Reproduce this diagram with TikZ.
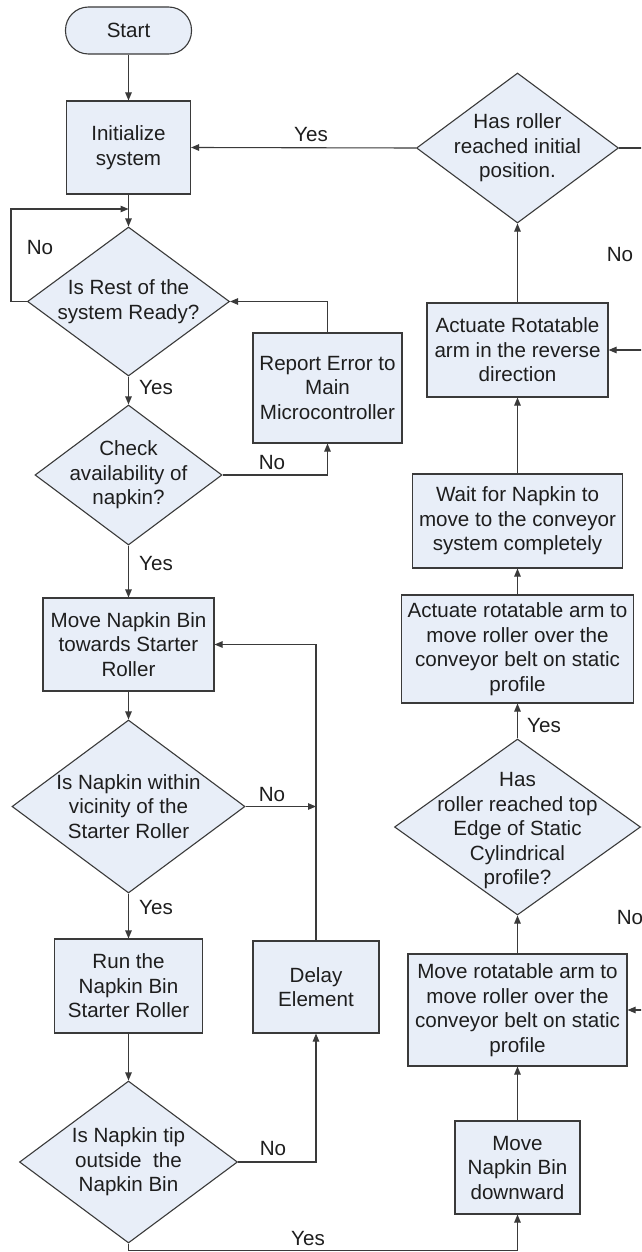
\documentclass[tikz,border=0pt]{standalone}
\usepackage{fontspec}
\setmainfont{Liberation Sans}
\usetikzlibrary{arrows.meta,shapes.geometric}
\definecolor{boxfill}{HTML}{E8EEF8}
\definecolor{linec}{HTML}{3A3A3A}
\definecolor{txtc}{HTML}{1E1E1E}
\begin{document}
\begin{tikzpicture}[x=1pt,y=-1pt,
  every node/.style={font=\fontsize{20.6pt}{24.5pt}\selectfont, text=txtc},
  box/.style={draw=linec, fill=boxfill, line width=1.1pt, inner sep=0pt, align=center},
  dia/.style={draw=linec, fill=boxfill, line width=1.1pt, diamond, inner sep=0pt},
  txt/.style={align=center, inner sep=0pt},
  lbl/.style={inner sep=0pt},
  arr/.style={draw=linec, line width=1.1pt, -{Triangle[length=8pt,width=6.5pt]}},
  ln/.style={draw=linec, line width=1.1pt}]
\clip (0,0) rectangle (641,1252);
\fill[white] (0,0) rectangle (641,1252);
% left column
\node[box, rounded corners=23pt, minimum width=126pt, minimum height=47pt] (start) at (128.5,30.5) {Start};
\node[box, minimum width=124pt, minimum height=93pt] (init) at (128.5,147.5) {Initialize\\system};
\node[dia, minimum width=202pt, minimum height=149pt] (d1) at (128.5,301.5) {};
\node[txt] (d1t) at (d1) {Is Rest of the\\system Ready?};
\node[box, minimum width=149pt, minimum height=110pt] (err) at (327.5,388) {Report Error to\\Main\\Microcontroller};
\node[dia, minimum width=187pt, minimum height=140pt] (d2) at (128.5,475) {};
\node[txt] (d2t) at (d2) {Check\\availability of\\napkin?};
\node[box, minimum width=171pt, minimum height=93pt] (mnb) at (128.5,644.5) {Move Napkin Bin\\towards Starter\\Roller};
\node[dia, minimum width=233pt, minimum height=173pt] (d3) at (128.5,806.5) {};
\node[txt] (d3t) at (d3) {Is Napkin within\\vicinity of the\\Starter Roller};
\node[box, minimum width=148pt, minimum height=94pt] (run) at (128.5,986) {Run the\\Napkin Bin\\Starter Roller};
\node[box, minimum width=126pt, minimum height=92pt] (delay) at (316,987) {Delay\\Element};
\node[dia, minimum width=218pt, minimum height=162pt] (d4) at (128.5,1162) {};
\node[txt] (d4t) at (d4) {Is Napkin tip\\outside\ \ the\\Napkin Bin};
% right column
\node[box, minimum width=125pt, minimum height=93pt] (mnbd) at (517.5,1167.5) {Move\\Napkin Bin\\downward};
\node[box, minimum width=219pt, minimum height=112pt] (mra) at (517.5,1010) {Move rotatable arm to\\move roller over the\\conveyor belt on static\\profile};
\node[dia, minimum width=246pt, minimum height=176pt] (r2) at (517.5,827) {};
\node[txt] (r2t) at (517.5,831) {Has\\roller reached top\\Edge of Static\\Cylindrical\\profile?};
\node[box, minimum width=232pt, minimum height=108pt] (ara) at (517.5,649) {Actuate rotatable arm to\\move roller over the\\conveyor belt on static\\profile};
\node[box, minimum width=210pt, minimum height=94pt] (wait) at (517.5,521) {Wait for Napkin to\\move to the conveyor\\system completely};
\node[box, minimum width=181pt, minimum height=94pt] (act) at (517.5,350) {Actuate Rotatable\\arm in the reverse\\direction};
\node[dia, minimum width=202pt, minimum height=150pt] (r1) at (517.5,148) {};
\node[txt] (r1t) at (r1) {Has roller\\reached initial\\position.};
% helper coordinates
\coordinate (j1) at (128.5,209);
\coordinate (j2) at (316,806.5);
\coordinate (e1) at (650,148);
\coordinate (e2) at (650,350);
\coordinate (e3) at (650,827);
\coordinate (e4) at (650,1010);
% connectors
\draw[arr] (start) -- (init);
\draw[arr] (init.south) -- (d1.north);
\draw[arr] (d1.west) -- ++(-16,0) |- (j1);
\draw[arr] (err.north) |- (d1.east);
\draw[arr] (d1.south) -- (d2.north);
\draw[arr] (d2.east) -| (err.south);
\draw[arr] (d2.south) -- (mnb.north);
\draw[arr] (mnb.south) -- (d3.north);
\draw[arr] (delay.north) |- (mnb.east);
\draw[arr] (d3.east) -- (j2);
\draw[arr] (d3.south) -- (run.north);
\draw[arr] (run.south) -- (d4.north);
\draw[arr] (d4.east) -| (delay.south);
\draw[arr] (d4.south) -- ++(0,7) -| (mnbd.south);
\draw[arr] (mnbd.north) -- (mra.south);
\draw[arr] (mra.north) -- (r2.south);
\draw[arr] (r2.north) -- (ara.south);
\draw[arr] (ara.north) -- (wait.south);
\draw[arr] (wait.north) -- (act.south);
\draw[arr] (act.north) -- (r1.south);
\draw[arr] (r1.west) -- (init.east);
\draw[ln] (r1.east) -- (e1);
\draw[arr] (e2) -- (act.east);
\draw[ln] (r2.east) -- (e3);
\draw[arr] (e4) -- (mra.east);
% labels
\node[lbl] (l1) at (311,135) {Yes};
\node[lbl] (l2) at (40,248) {No};
\node[lbl] (l3) at (156,388) {Yes};
\node[lbl] (l4) at (272,463) {No};
\node[lbl] (l5) at (156,564) {Yes};
\node[lbl] (l6) at (272,795) {No};
\node[lbl] (l7) at (156,908) {Yes};
\node[lbl] (l8) at (273,1148) {No};
\node[lbl] (l9) at (308,1238) {Yes};
\node[lbl] (l10) at (620,255) {No};
\node[lbl] (l11) at (544,726) {Yes};
\node[lbl] (l12) at (630,918) {No};
\end{tikzpicture}
\end{document}
